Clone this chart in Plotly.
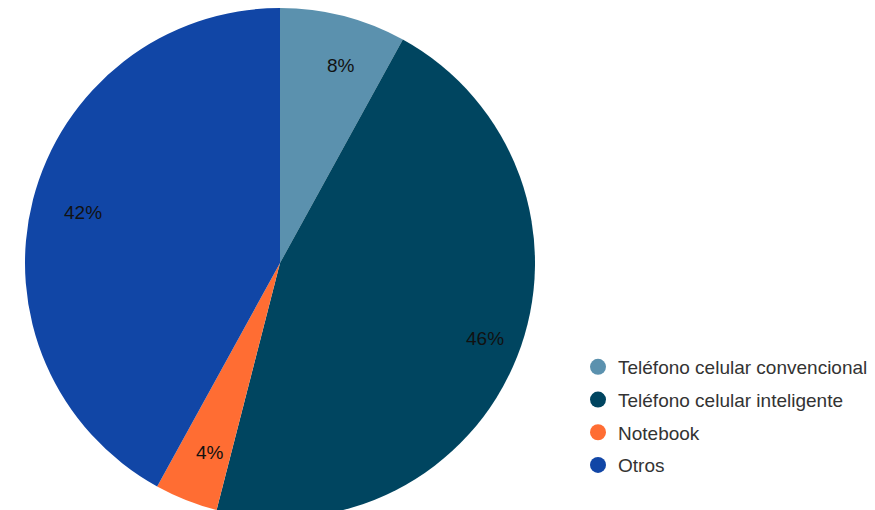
import math
import plotly.graph_objects as go

categories = ["Teléfono celular convencional", "Teléfono celular inteligente", "Notebook", "Otros"]
values = [8, 46, 4, 42]
colors = ["#5b91ae", "#004560", "#ff6d33", "#1146a6"]

W, H = 875, 510
CX, CY, R = 280, 255, 255   # pie centre (px from left/top) and radius
LABEL_R = 0.8               # label distance as fraction of radius
SHIFT = 8                   # correction for plotly's pie centring

fig = go.Figure()
fig.add_trace(go.Pie(
    labels=categories,
    values=values,
    sort=False,
    direction="clockwise",
    rotation=0,
    marker=dict(colors=colors, line=dict(width=0)),
    textinfo="none",
    showlegend=False,
    hoverinfo="label+percent",
    domain=dict(x=[(CX - R - SHIFT) / W, (CX + R - SHIFT) / W], y=[0, 1]),
))

# percentage labels placed at the middle angle of each slice
total = sum(values)
cum = 0
for v in values:
    mid = (cum + v / 2) / total * 2 * math.pi
    cum += v
    px = CX + LABEL_R * R * math.sin(mid) * 1.04
    py = CY - LABEL_R * R * math.cos(mid)
    fig.add_annotation(
        x=px / W, y=1 - py / H, xref="paper", yref="paper",
        text=f"{round(v / total * 100)}%", showarrow=False,
        font=dict(family="Liberation Sans, Arial, sans-serif", size=19, color="#111111"),
        xanchor="center", yanchor="middle",
    )

for i, (cat, col) in enumerate(zip(categories, colors)):
    fig.add_trace(go.Scatter(
        x=[None], y=[None], mode="markers", name=cat,
        marker=dict(symbol="circle", size=16, color=col),
        legendgroup=f"g{i}", showlegend=True,
    ))

fig.update_layout(
    width=W, height=H,
    margin=dict(l=0, r=0, t=0, b=0),
    paper_bgcolor="white", plot_bgcolor="white",
    xaxis=dict(visible=False), yaxis=dict(visible=False),
    legend=dict(
        x=570 / W, y=1 - 340 / H, xanchor="left", yanchor="top",
        font=dict(family="Liberation Sans, Arial, sans-serif", size=19, color="#333333"),
        tracegroupgap=5, traceorder="grouped",
        bgcolor="rgba(0,0,0,0)",
    ),
)

fig.write_html("out.html")
